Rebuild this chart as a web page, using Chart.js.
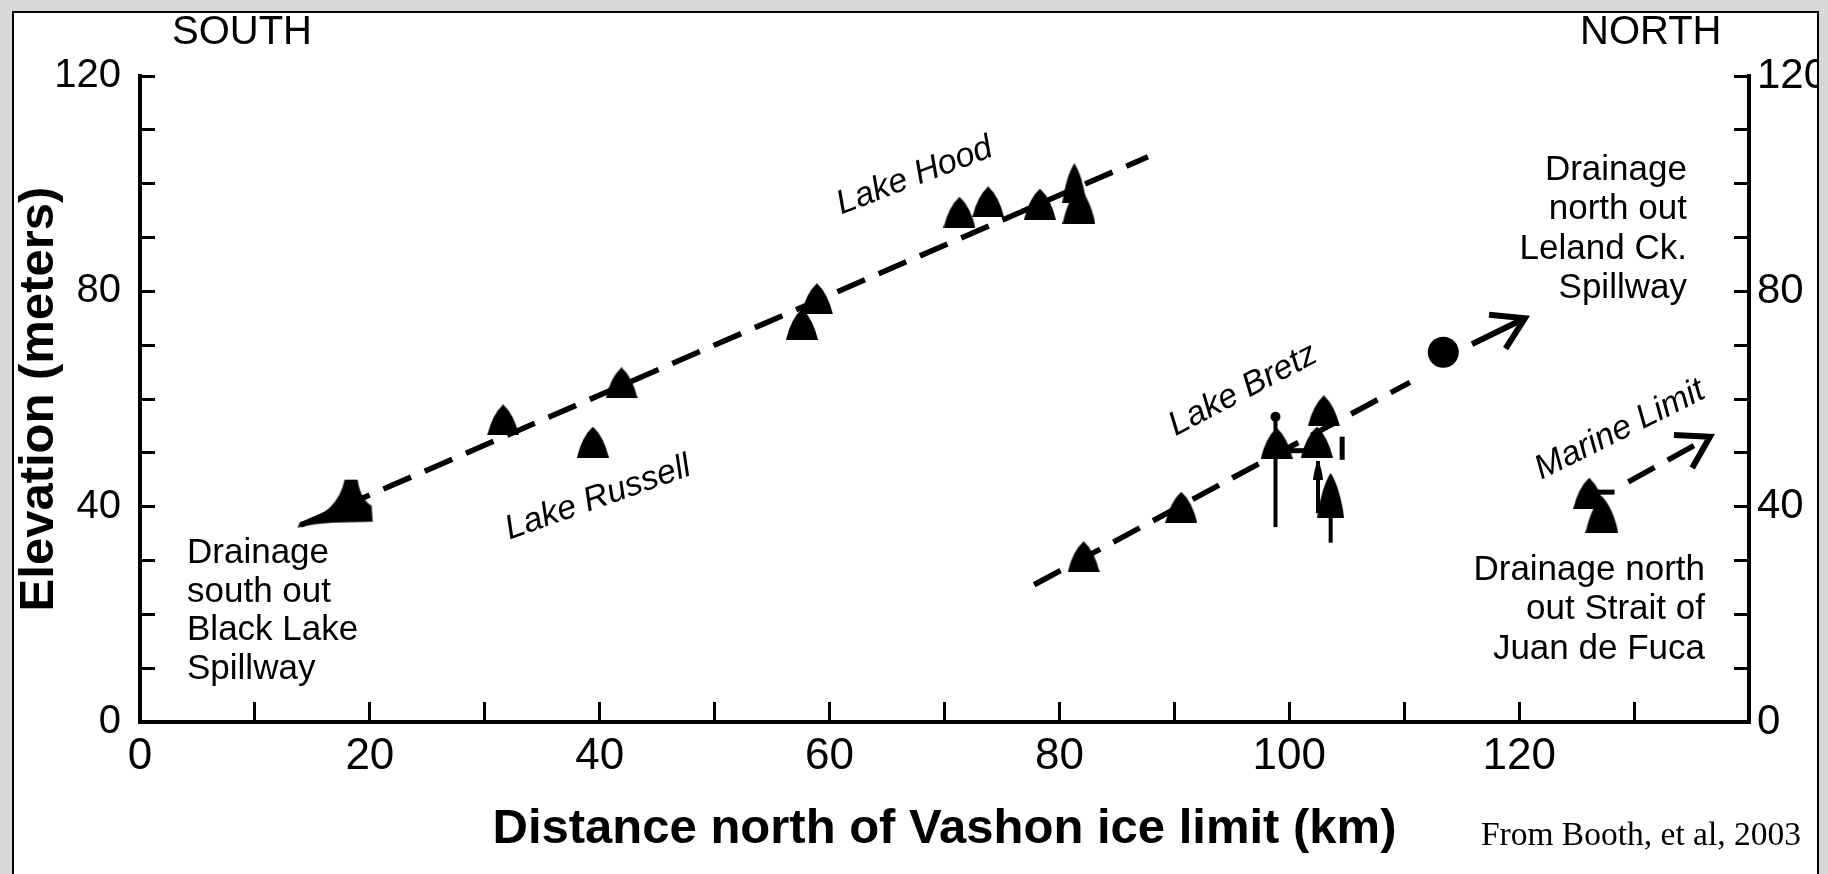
<!DOCTYPE html>
<html><head><meta charset="utf-8">
<script src="https://cdn.jsdelivr.net/npm/chart.js@4/dist/chart.umd.min.js"></script>
<style>html,body{margin:0;padding:0;background:#d8d8d8;}canvas{display:block}</style>
</head><body>
<canvas id="c" width="1828" height="874"></canvas>
<script>
// ---------- data ----------
const russellHoodX = [18.5, 31.6, 39.4, 41.9, 57.6, 58.9, 71.3, 73.8, 78.3, 81.3, 81.7];
const russellHoodY = [41.3, 56.1, 52.0, 63.0, 73.9, 78.6, 94.7, 96.6, 96.2, 100.1, 95.9];
const russellHoodLineX = [14.0, 87.7];
const russellHoodLineY = [36.6, 105.0];

const bretzX = [82.1, 90.6, 98.9, 102.4, 103.0, 103.6];
const bretzY = [30.7, 39.9, 51.8, 52.0, 57.8, 42.1];
const bretzLineX = [77.8, 110.5];
const bretzLineY = [25.5, 63.1];
const bretzBarX = [98.8, 102.5, 103.6];
const bretzBarLow = [36.2, 38.8, 33.3];
const bretzBarHigh = [56.7, 48.5, 42.0];
const bretzCapX = [98.8];
const bretzCapY = [56.7];
const bretzArrowX = [102.5];
const bretzArrowY = [46.8];
const bretzBridgeX = [99.8, 101.8];
const bretzBridgeY = [50.4, 50.4];
const bretzMarkX = [104.6, 104.6];
const bretzMarkY = [48.7, 53.0];

const lelandX = [113.4];
const lelandY = [68.7];
const lelandArrowX = [115.9, 120.5];
const lelandArrowY = [70.2, 75.0];

const marineX = [126.1, 127.2];
const marineY = [42.5, 38.5];
const marineBarX = [126.6, 128.3];
const marineBarY = [42.7, 42.7];
const marineLineX = [129.5, 136.6];
const marineLineY = [44.6, 53.0];

const xTickLabels = [0, 20, 40, 60, 80, 100, 120];
const yTickLabels = [0, 40, 80, 120];

// ---------- helpers ----------
const FONT = '"Liberation Sans", Arial, sans-serif';
const pts = (xs, ys) => xs.map((x, i) => ({x: x, y: ys[i]}));

function makeCone(w, h) {
  const c = document.createElement('canvas'); c.width = w; c.height = h;
  const g = c.getContext('2d');
  g.fillStyle = '#000';
  g.beginPath();
  g.moveTo(0, h);
  g.quadraticCurveTo(w * 0.16, h * 0.32, w * 0.5, 0);
  g.quadraticCurveTo(w * 0.84, h * 0.32, w, h);
  g.closePath(); g.fill();
  return c;
}
function makeBlackLake() {
  const c = document.createElement('canvas'); c.width = 120; c.height = 60;
  const g = c.getContext('2d');
  g.fillStyle = '#000';
  g.beginPath();
  g.moveTo(52, 10); g.lineTo(65, 10);
  g.quadraticCurveTo(68, 30, 79, 36);
  g.lineTo(80, 52); g.lineTo(40, 53);
  g.quadraticCurveTo(20, 54, 5, 58);
  g.lineTo(7, 53);
  g.quadraticCurveTo(45, 44, 52, 10);
  g.closePath(); g.fill();
  return c;
}
const cone = makeCone(32, 31);
const coneSlim = makeCone(24, 40);
const coneWide = makeCone(33, 37);
const coneTall = makeCone(27, 45);
const coneTiny = makeCone(10, 19);
const blackLake = makeBlackLake();

const dashed = {showLine: true, borderColor: '#000', borderWidth: 5.5, borderDash: [30, 15], pointRadius: 0, fill: false, order: 3};
const solid = {showLine: true, borderColor: '#000', borderWidth: 4, pointRadius: 0, fill: false, order: 2};

const datasets = [
  {label: 'Lake Russell / Lake Hood', data: pts(russellHoodX, russellHoodY), showLine: false,
   pointStyle: [blackLake, cone, cone, cone, cone, cone, cone, cone, cone, coneSlim, coneWide],
   backgroundColor: '#000', borderColor: '#000', borderWidth: 0, order: 0},
  {label: 'Lake Bretz', data: pts(bretzX, bretzY), showLine: false,
   pointStyle: [cone, cone, cone, cone, cone, coneTall], backgroundColor: '#000', borderWidth: 0, order: 0},
  {label: 'Bretz arrow', data: pts(bretzArrowX, bretzArrowY), showLine: false, pointStyle: coneTiny, borderWidth: 0, order: 0},
  {label: 'Bretz cap', data: pts(bretzCapX, bretzCapY), showLine: false, pointStyle: 'circle', pointRadius: 5,
   backgroundColor: '#000', borderColor: '#000', borderWidth: 0, order: 0},
  {label: 'Leland', data: pts(lelandX, lelandY), showLine: false, pointStyle: 'circle', pointRadius: 15.5,
   backgroundColor: '#000', borderColor: '#000', borderWidth: 0, order: 0},
  {label: 'Marine', data: pts(marineX, marineY), showLine: false, pointStyle: [cone, coneWide], borderWidth: 0, order: 0},
  Object.assign({label: 'Lake Russell / Hood shoreline', data: pts(russellHoodLineX, russellHoodLineY)}, dashed),
  Object.assign({label: 'Lake Bretz shoreline', data: pts(bretzLineX, bretzLineY)}, dashed),
  Object.assign({label: 'Marine limit', data: pts(marineLineX, marineLineY), arrowHead: true}, dashed),
  Object.assign({label: 'Leland arrow', data: pts(lelandArrowX, lelandArrowY), arrowHead: true}, solid, {borderWidth: 6}),
  Object.assign({label: 'Bretz bridge', data: pts(bretzBridgeX, bretzBridgeY)}, solid, {borderWidth: 5}),
  Object.assign({label: 'Bretz mark', data: pts(bretzMarkX, bretzMarkY)}, solid, {borderWidth: 5}),
  Object.assign({label: 'Marine bar', data: pts(marineBarX, marineBarY)}, solid, {borderWidth: 5})
];
bretzBarX.forEach((x, i) => {
  datasets.push(Object.assign({label: 'Bretz range ' + i, data: [{x: x, y: bretzBarLow[i]}, {x: x, y: bretzBarHigh[i]}]}, solid));
});

// ---------- annotations ----------
const rotatedLabels = [
  {text: 'Lake Russell', x: 39.85, y: 41.6, angle: -19.5},
  {text: 'Lake Hood', x: 67.4, y: 101.4, angle: -21},
  {text: 'Lake Bretz', x: 95.97, y: 61.67, angle: -27.7},
  {text: 'Marine Limit', x: 128.77, y: 54.24, angle: -26.5}
];
const blockLabels = [
  {lines: ['Drainage', 'south out', 'Black Lake', 'Spillway'], x: 4.09, y: 29.54, align: 'left', gap: 38.7},
  {lines: ['Drainage', 'north out', 'Leland Ck.', 'Spillway'], x: 134.6, y: 100.68, align: 'right', gap: 39.3},
  {lines: ['Drainage north', 'out Strait of', 'Juan de Fuca'], x: 136.17, y: 26.38, align: 'right', gap: 39.5}
];

const decor = {
  id: 'decor',
  beforeDraw(chart) {
    const ctx = chart.ctx;
    ctx.save();
    ctx.fillStyle = '#d8d8d8'; ctx.fillRect(0, 0, chart.width, chart.height);
    ctx.fillStyle = '#ffffff'; ctx.fillRect(13, 12, 1805, chart.height);
    ctx.restore();
  },
  afterDatasetsDraw(chart) {
    const ctx = chart.ctx;
    chart.data.datasets.forEach((ds, i) => {
      if (!ds.arrowHead) return;
      const p = chart.getDatasetMeta(i).data;
      const a = p[p.length - 2], b = p[p.length - 1];
      const ang = Math.atan2(b.y - a.y, b.x - a.x);
      const L = 36, sp = 0.55;
      ctx.save();
      ctx.strokeStyle = '#000'; ctx.lineWidth = 6; ctx.lineJoin = 'miter';
      ctx.beginPath();
      ctx.moveTo(b.x - L * Math.cos(ang - sp), b.y - L * Math.sin(ang - sp));
      ctx.lineTo(b.x, b.y);
      ctx.lineTo(b.x - L * Math.cos(ang + sp), b.y - L * Math.sin(ang + sp));
      ctx.stroke();
      ctx.restore();
    });
  },
  afterDraw(chart) {
    const ctx = chart.ctx, xs = chart.scales.x, ys = chart.scales.y;
    ctx.save();
    ctx.fillStyle = '#000';
    // rotated italic lake names
    ctx.font = 'italic 34px ' + FONT;
    ctx.textAlign = 'center'; ctx.textBaseline = 'middle';
    rotatedLabels.forEach(l => {
      ctx.save();
      ctx.translate(xs.getPixelForValue(l.x), ys.getPixelForValue(l.y));
      ctx.rotate(l.angle * Math.PI / 180);
      ctx.fillText(l.text, 0, 0);
      ctx.restore();
    });
    // text blocks
    ctx.font = '35px ' + FONT;
    ctx.textBaseline = 'alphabetic';
    blockLabels.forEach(b => {
      ctx.textAlign = b.align;
      const px = xs.getPixelForValue(b.x), py = ys.getPixelForValue(b.y);
      b.lines.forEach((t, k) => ctx.fillText(t, px, py + k * b.gap));
    });
    // direction words
    ctx.font = '40px ' + FONT;
    ctx.textAlign = 'left';
    ctx.fillText('SOUTH', 172, 44);
    ctx.fillText('NORTH', 1580, 44);
    // source
    ctx.font = '33.5px "Liberation Serif", "Times New Roman", serif';
    ctx.textAlign = 'right';
    ctx.fillText('From Booth, et al, 2003', 1801, 845);
    // outer margins and frame
    ctx.fillStyle = '#d8d8d8';
    ctx.fillRect(0, 0, chart.width, 11);
    ctx.fillRect(0, 0, 12, chart.height);
    ctx.fillRect(1819, 0, chart.width - 1819, chart.height);
    ctx.strokeStyle = '#000'; ctx.lineWidth = 2;
    ctx.strokeRect(13, 12, 1805, chart.height + 10);
    ctx.restore();
  }
};

const axisCommon = {
  type: 'linear', min: 0,
  border: {display: true, color: '#000', width: 4},
  grid: {drawOnChartArea: false, drawTicks: true, tickColor: '#000', tickWidth: 3}
};

new Chart(document.getElementById('c'), {
  type: 'scatter',
  data: {datasets: datasets},
  options: {
    responsive: false, animation: false, devicePixelRatio: 1,
    layout: {padding: {left: 10, top: 76, right: 0, bottom: 0}},
    plugins: {legend: {display: false}, tooltip: {enabled: false}},
    scales: {
      x: Object.assign({}, axisCommon, {
        position: 'bottom', max: 140,
        grid: Object.assign({}, axisCommon.grid, {tickLength: -20}),
        ticks: {stepSize: 10, autoSkip: false, maxRotation: 0, padding: 28, color: '#000',
                font: {family: FONT, size: 44},
                callback: v => xTickLabels.includes(v) ? String(v) : ''},
        title: {display: true, text: 'Distance north of Vashon ice limit (km)', color: '#000',
                font: {family: FONT, size: 49, weight: 'bold', lineHeight: 1.2}, padding: {top: 0, bottom: 15}},
        afterFit: s => { s.height = 152; }
      }),
      y: Object.assign({}, axisCommon, {
        position: 'left', max: 120,
        grid: Object.assign({}, axisCommon.grid, {tickLength: -15}),
        ticks: {stepSize: 10, autoSkip: false, padding: 34, color: '#000',
                font: {family: FONT, size: 40},
                callback: v => yTickLabels.includes(v) ? String(v) : ''},
        title: {display: true, text: 'Elevation (meters)', color: '#000',
                font: {family: FONT, size: 49, weight: 'bold', lineHeight: 1.2}, padding: {top: 0, bottom: 0}},
        afterFit: s => { s.width = 130; }
      }),
      y2: Object.assign({}, axisCommon, {
        position: 'right', max: 120,
        grid: Object.assign({}, axisCommon.grid, {tickLength: -15}),
        ticks: {stepSize: 10, autoSkip: false, padding: 23, color: '#000',
                font: {family: FONT, size: 42},
                callback: v => yTickLabels.includes(v) ? String(v) : ''},
        afterFit: s => { s.width = 79; }
      })
    }
  },
  plugins: [decor]
});
</script>
</body></html>
